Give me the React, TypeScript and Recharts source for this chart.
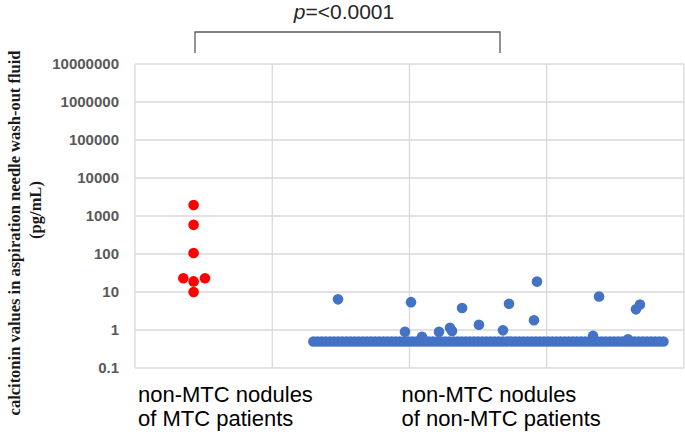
import { ScatterChart, Scatter, XAxis, YAxis, CartesianGrid } from 'recharts';

// y ticks (log scale, pg/mL)
const yTicks = [0.1, 1, 10, 100, 1000, 10000, 100000, 1000000, 10000000];
const xTicks = [0, 1, 2, 3, 4];

// group labels on the x axis
const groupLabels = [
  ['non-MTC nodules', 'of MTC patients'],
  ['non-MTC nodules', 'of non-MTC patients'],
];

// non-MTC nodules of MTC patients
const mtcX = [0.427, 0.427, 0.427, 0.352, 0.427, 0.51, 0.427];
const mtcY = [1950, 585, 106, 23, 19, 23, 10];

// non-MTC nodules of non-MTC patients, measurable values
const nonMtcX = [
  1.479, 1.967, 2.011, 2.091, 2.215, 2.295, 2.31, 2.383, 2.506, 2.681, 2.725, 2.907, 2.929,
  3.337, 3.381, 3.592, 3.65, 3.679,
];
const nonMtcY = [
  6.4, 0.9, 5.4, 0.66, 0.9, 1.15, 0.94, 3.8, 1.38, 0.98, 4.9, 1.8, 18.8, 0.7, 7.6, 0.57, 3.5,
  4.7,
];

// non-MTC patients below detection limit, plotted at 0.5
const belowLimitValue = 0.5;
const belowLimitX = [
  1.3, 1.33, 1.36, 1.39, 1.42, 1.45, 1.48, 1.51, 1.54, 1.57, 1.6, 1.63, 1.66, 1.69, 1.72, 1.75,
  1.78, 1.81, 1.84, 1.87, 1.9, 1.93, 1.96, 1.99, 2.02, 2.05, 2.08, 2.11, 2.14, 2.17, 2.2, 2.23,
  2.26, 2.29, 2.32, 2.35, 2.38, 2.41, 2.44, 2.47, 2.5, 2.53, 2.56, 2.59, 2.62, 2.65, 2.68, 2.71,
  2.74, 2.77, 2.8, 2.83, 2.86, 2.89, 2.92, 2.95, 2.98, 3.01, 3.04, 3.07, 3.1, 3.13, 3.16, 3.19,
  3.22, 3.25, 3.28, 3.31, 3.34, 3.37, 3.4, 3.43, 3.46, 3.49, 3.52, 3.55, 3.58, 3.61, 3.64, 3.67,
  3.7, 3.73, 3.76, 3.79, 3.82, 3.85,
];

const redData = mtcX.map((x, i) => ({ x, y: mtcY[i] }));
const blueData = [
  ...belowLimitX.map((x) => ({ x, y: belowLimitValue })),
  ...nonMtcX.map((x, i) => ({ x, y: nonMtcY[i] })),
];

const Dot = (props: any) => <circle cx={props.cx} cy={props.cy} r={5.3} fill={props.fill} />;

const GroupTick = (props: any) => {
  const { x, y, payload } = props;
  const idx = payload.value === 0 ? 0 : payload.value === 2 ? 1 : -1;
  if (idx < 0) return null;
  const dx = idx === 0 ? 3 : -8;
  return (
    <text
      x={x + dx}
      y={y}
      fontFamily="Liberation Sans, Arial, sans-serif"
      fontSize={22}
      fill="#000"
      textAnchor="start"
    >
      <tspan x={x + dx} dy={26}>
        {groupLabels[idx][0]}
      </tspan>
      <tspan x={x + dx} dy={24}>
        {groupLabels[idx][1]}
      </tspan>
    </text>
  );
};

export default function App() {
  return (
    <div style={{ position: 'fixed', left: 0, top: 0, width: 685, height: 434, background: '#fff' }}>
      <ScatterChart width={685} height={434} margin={{ top: 64, right: 1, bottom: 0, left: 0 }}>
        <CartesianGrid stroke="#d9d9d9" strokeWidth={1.3} />
        <XAxis
          type="number"
          dataKey="x"
          domain={[0, 4]}
          ticks={xTicks}
          interval={0}
          height={66}
          axisLine={false}
          tickLine={false}
          tick={<GroupTick />}
        />
        <YAxis
          type="number"
          dataKey="y"
          scale="log"
          domain={[0.1, 10000000]}
          ticks={yTicks}
          interval={0}
          allowDataOverflow
          width={135}
          axisLine={false}
          tickLine={false}
          tickSize={0}
          tickMargin={16}
          tick={{ fill: '#595959', fontSize: 15, fontWeight: 700, fontFamily: 'Liberation Sans, Arial, sans-serif' }}
        />
        <Scatter data={blueData} fill="#4472c4" shape={<Dot />} isAnimationActive={false} />
        <Scatter data={redData} fill="#ff0000" shape={<Dot />} isAnimationActive={false} />
      </ScatterChart>

      <svg width={685} height={434} style={{ position: 'absolute', left: 0, top: 0, pointerEvents: 'none' }}>
        {/* significance bracket */}
        <path d="M195,53 V32 H500 V53" fill="none" stroke="#595959" strokeWidth={1.3} />
        <text x={344} y={19} textAnchor="middle" fontFamily="Liberation Sans, Arial, sans-serif" fontSize={21} fill="#262626">
          <tspan fontStyle="italic">p</tspan>=&lt;0.0001
        </text>
        {/* y axis title */}
        <text
          transform="translate(20,233) rotate(-90)"
          textAnchor="middle"
          fontFamily="Liberation Serif, Times New Roman, serif"
          fontWeight={700}
          fontSize={16.5}
          fill="#1a1a1a"
        >
          calcitonin values in aspiration needle wash-out fluid
        </text>
        <text
          transform="translate(41,210) rotate(-90)"
          textAnchor="middle"
          fontFamily="Liberation Serif, Times New Roman, serif"
          fontWeight={700}
          fontSize={16.5}
          fill="#1a1a1a"
        >
          (pg/mL)
        </text>
      </svg>
    </div>
  );
}
